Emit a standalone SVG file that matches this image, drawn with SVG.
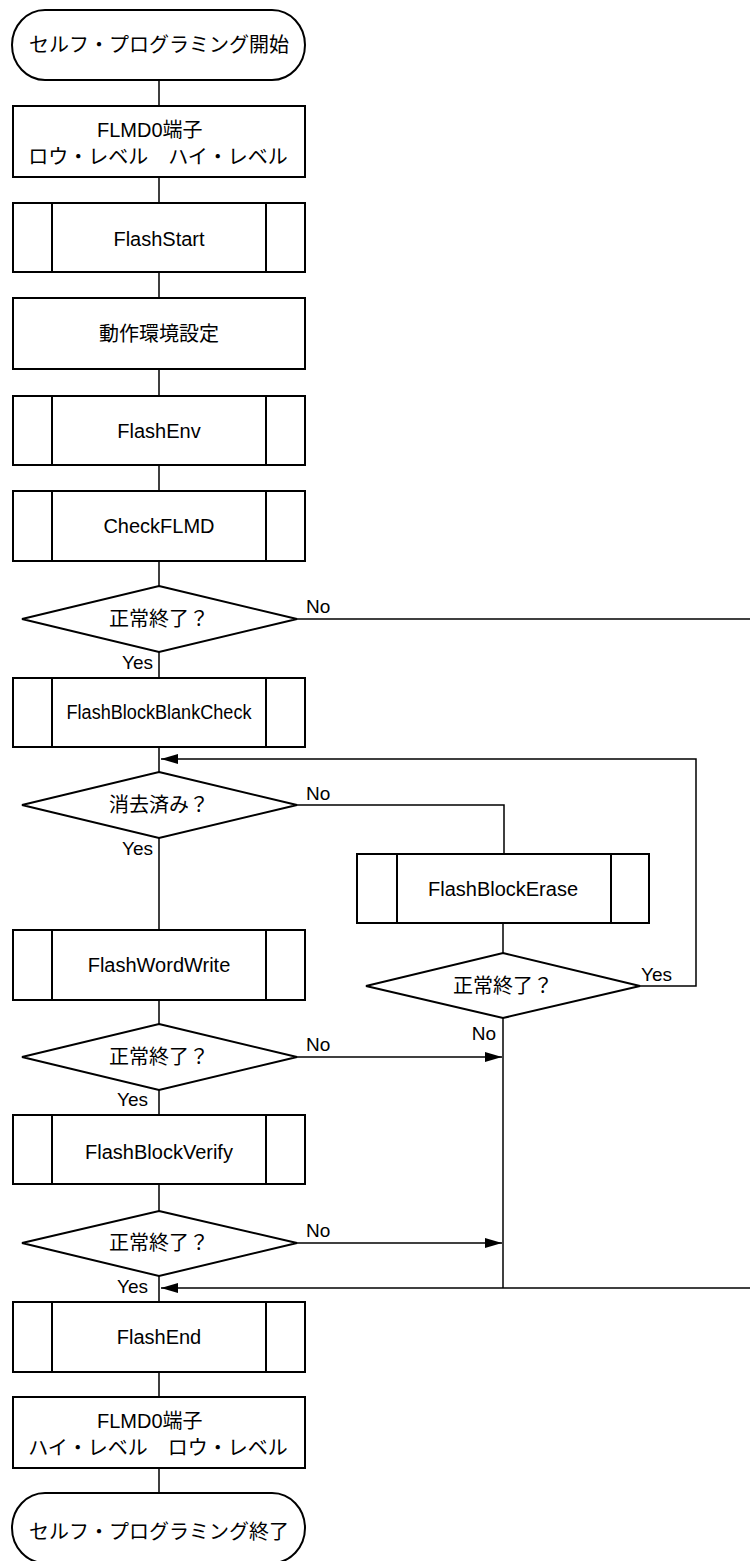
<svg xmlns="http://www.w3.org/2000/svg" width="750" height="1561" viewBox="0 0 750 1561">
<style>
.s{fill:#fff;stroke:#000;stroke-width:2}
.c{fill:none;stroke:#000;stroke-width:1.5}
.t{font-family:"Liberation Sans","Noto Sans CJK JP",sans-serif;font-size:20px;fill:#000;text-anchor:middle}
.l{font-family:"Liberation Sans","Noto Sans CJK JP",sans-serif;font-size:19px;fill:#000}
.e{text-anchor:end}
</style>
<defs>
<marker id="ah" markerUnits="userSpaceOnUse" markerWidth="18" markerHeight="11" refX="17" refY="5" orient="auto">
<path d="M0,0 L17,5 L0,10 z" fill="#000"/>
</marker>
</defs>
<rect width="750" height="1561" fill="#fff"/>
<g id="connectors">
<path class="c" d="M159,80V106M159,177V203M159,272V298M159,369V396M159,465V491M159,561V586M159,652V678M159,747V772M159,838V930M159,1000V1024M159,1090V1115M159,1184V1211M159,1276V1302M159,1372V1397M159,1468V1493"/>
<path class="c" d="M297,619H750"/>
<path class="c" d="M640,986H696V759H161" marker-end="url(#ah)"/>
<path class="c" d="M297,805H504V854"/>
<path class="c" d="M503,923V953"/>
<path class="c" d="M503,1018V1288"/>
<path class="c" d="M297,1057H502" marker-end="url(#ah)"/>
<path class="c" d="M297,1243H502" marker-end="url(#ah)"/>
<path class="c" d="M750,1288H161" marker-end="url(#ah)"/>
</g>
<g id="start">
<rect class="s" x="12" y="10" width="293" height="70" rx="33" ry="35"/>
<text class="t" x="159" y="52">セルフ・プログラミング開始</text>
</g>
<g id="flmd-low-high">
<rect class="s" x="13" y="106" width="292" height="71"/>
<text class="t" x="97" y="137" style="text-anchor:start">FLMD0端子</text>
<text class="t" x="158" y="164">ロウ・レベル　ハイ・レベル</text>
</g>
<g id="flashstart">
<rect class="s" x="13" y="203" width="292" height="69"/>
<path class="c" d="M52,203V272M266,203V272" style="stroke-width:2"/>
<text class="t" x="159" y="246">FlashStart</text>
</g>
<g id="env-setting">
<rect class="s" x="13" y="298" width="292" height="71"/>
<text class="t" x="159" y="341">動作環境設定</text>
</g>
<g id="flashenv">
<rect class="s" x="13" y="396" width="292" height="69"/>
<path class="c" d="M52,396V465M266,396V465" style="stroke-width:2"/>
<text class="t" x="159" y="438">FlashEnv</text>
</g>
<g id="checkflmd">
<rect class="s" x="13" y="491" width="292" height="70"/>
<path class="c" d="M52,491V561M266,491V561" style="stroke-width:2"/>
<text class="t" x="159" y="533">CheckFLMD</text>
</g>
<g id="dec1">
<polygon class="s" points="159,586 297,619 159,652 22,619"/>
<text class="t" x="159" y="626">正常終了？</text>
<text class="l" x="306" y="613">No</text>
<text class="l e" x="153" y="669">Yes</text>
</g>
<g id="blankcheck">
<rect class="s" x="13" y="678" width="292" height="69"/>
<path class="c" d="M52,678V747M266,678V747" style="stroke-width:2"/>
<text class="t" x="159" y="719" textLength="185" lengthAdjust="spacingAndGlyphs">FlashBlockBlankCheck</text>
</g>
<g id="dec-erased">
<polygon class="s" points="159,772 297,805 159,838 22,805"/>
<text class="t" x="159" y="812">消去済み？</text>
<text class="l" x="306" y="800">No</text>
<text class="l e" x="153" y="855">Yes</text>
</g>
<g id="erase">
<rect class="s" x="357" y="854" width="292" height="69"/>
<path class="c" d="M397,854V923M611,854V923" style="stroke-width:2"/>
<text class="t" x="503" y="896">FlashBlockErase</text>
</g>
<g id="dec-erase">
<polygon class="s" points="503,953 640,986 503,1018 366,986"/>
<text class="t" x="503" y="993">正常終了？</text>
<text class="l" x="641" y="981">Yes</text>
<text class="l e" x="496" y="1040">No</text>
</g>
<g id="wordwrite">
<rect class="s" x="13" y="930" width="292" height="70"/>
<path class="c" d="M52,930V1000M266,930V1000" style="stroke-width:2"/>
<text class="t" x="159" y="972">FlashWordWrite</text>
</g>
<g id="dec-write">
<polygon class="s" points="159,1024 297,1057 159,1090 22,1057"/>
<text class="t" x="159" y="1064">正常終了？</text>
<text class="l" x="306" y="1051">No</text>
<text class="l e" x="148" y="1106">Yes</text>
</g>
<g id="verify">
<rect class="s" x="13" y="1115" width="292" height="69"/>
<path class="c" d="M52,1115V1184M266,1115V1184" style="stroke-width:2"/>
<text class="t" x="159" y="1159">FlashBlockVerify</text>
</g>
<g id="dec-verify">
<polygon class="s" points="159,1211 297,1243 159,1276 22,1243"/>
<text class="t" x="159" y="1250">正常終了？</text>
<text class="l" x="306" y="1237">No</text>
<text class="l e" x="148" y="1293">Yes</text>
</g>
<g id="flashend">
<rect class="s" x="13" y="1302" width="292" height="70"/>
<path class="c" d="M52,1302V1372M266,1302V1372" style="stroke-width:2"/>
<text class="t" x="159" y="1344">FlashEnd</text>
</g>
<g id="flmd-high-low">
<rect class="s" x="13" y="1397" width="292" height="71"/>
<text class="t" x="97" y="1428" style="text-anchor:start">FLMD0端子</text>
<text class="t" x="158" y="1455">ハイ・レベル　ロウ・レベル</text>
</g>
<g id="end">
<rect class="s" x="12" y="1493" width="293" height="70" rx="33" ry="35"/>
<text class="t" x="159" y="1539">セルフ・プログラミング終了</text>
</g>
</svg>
